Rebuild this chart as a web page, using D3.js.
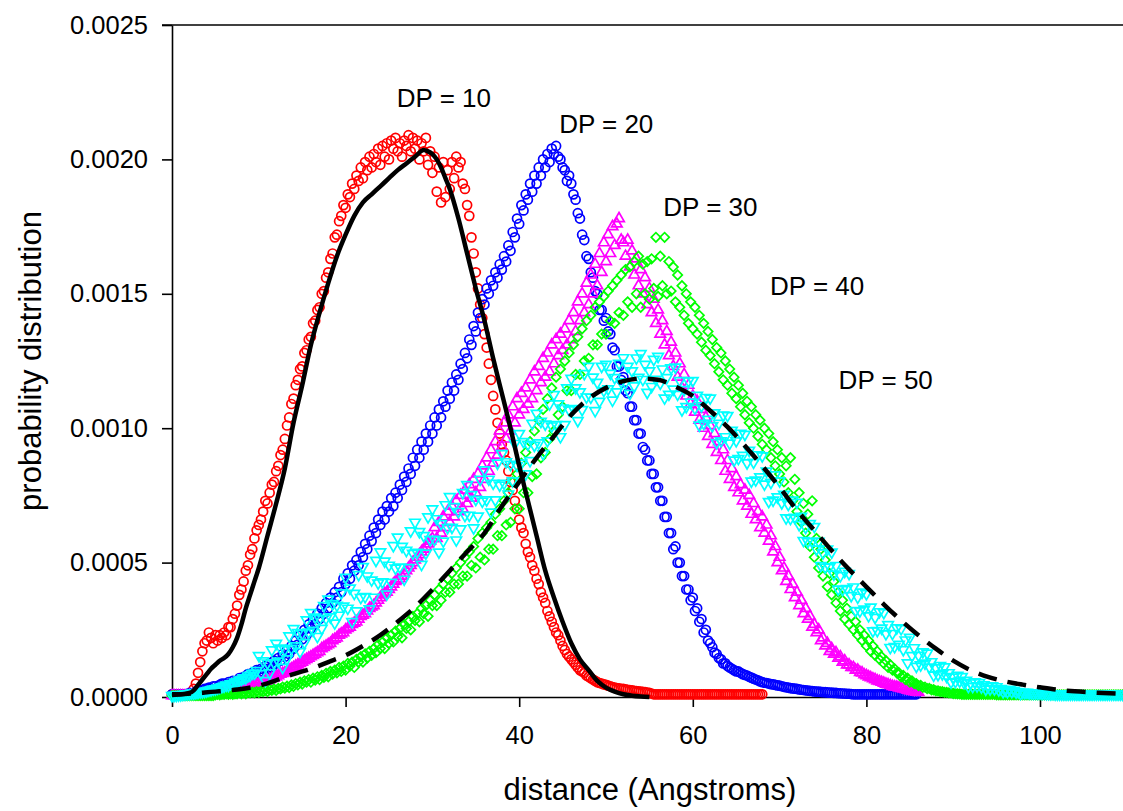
<!DOCTYPE html>
<html lang="en">
<head>
<meta charset="UTF-8">
<title>probability distribution</title>
<style>
  body { margin: 0; background: #fff; }
  svg text { font-family: "Liberation Sans", Arial, sans-serif; fill: #000; }
</style>
</head>
<body>
<svg width="1123" height="811" id="svg"></svg>
<script src="https://d3js.org/d3.v7.min.js"></script>
<script>
// sampled every 0.25 Angstrom starting at 0 (one row = 2 Angstrom), values in units of 1e-4
const step = 0.25

const dp10 = [
  0.1,0.1,0.1,0.1,0.1,0.1,0.1,0.1,
  0.1,0.1,0.3,0.5,0.9,1.3,1.7,2.0,
  2.1,2.4,2.2,2.0,2.3,2.1,2.3,2.2,
  2.4,2.3,2.6,2.6,2.9,3.1,3.4,3.8,
  4.0,4.3,4.7,4.9,5.3,5.5,5.9,6.2,
  6.4,6.6,6.9,7.3,7.2,7.6,7.9,8.0,
  8.4,8.6,9.0,9.2,9.6,10.1,10.4,10.9,
  11.1,11.6,11.8,12.2,12.3,12.8,12.9,13.3,
  13.4,13.9,14.0,14.4,14.5,15.0,15.1,15.6,
  15.8,16.3,16.5,17.1,17.2,17.7,17.9,18.3,
  18.2,18.7,18.6,19.1,18.9,19.4,19.2,19.7,
  19.3,19.9,19.6,20.1,19.7,20.2,19.9,20.4,
  19.8,20.5,20.1,20.6,20.0,20.7,20.4,20.8,
  20.3,20.6,20.1,20.7,20.5,20.9,20.3,20.8,
  20.4,20.7,20.0,20.6,20.3,20.8,19.8,20.3,
  19.5,20.1,18.8,19.7,18.4,19.9,18.6,19.6,
  18.9,19.9,19.3,20.1,19.7,19.9,19.1,18.9,
  18.3,17.9,17.1,16.5,15.8,15.2,14.6,14.1,
  13.5,13.0,12.4,11.8,11.2,10.7,10.2,9.8,
  9.4,9.1,8.8,8.4,8.0,7.7,7.3,7.0,
  6.6,6.3,6.1,5.7,5.4,5.2,4.9,4.7,
  4.4,4.2,3.9,3.7,3.5,3.2,3.0,2.8,
  2.6,2.4,2.3,2.1,1.9,1.75,1.6,1.5,
  1.4,1.3,1.2,1.1,1.0,0.95,0.9,0.8,
  0.75,0.7,0.65,0.6,0.55,0.52,0.5,0.47,
  0.45,0.42,0.4,0.37,0.35,0.33,0.32,0.3,
  0.3,0.28,0.27,0.26,0.25,0.23,0.22,0.21,
  0.2,0.19,0.18,0.16,0.15,0.13,0.1,0.1,
  0.1,0.1,0.1,0.1,0.1,0.1,0.1,0.1,
  0.1,0.1,0.1,0.1,0.1,0.1,0.1,0.1,
  0.1,0.1,0.1,0.1,0.1,0.1,0.1,0.1,
  0.1,0.1,0.1,0.1,0.1,0.1,0.1,0.1,
  0.1,0.1,0.1,0.1,0.1,0.1,0.1,0.1,
  0.1,0.1,0.1,0.1,0.1,0.1,0.1,0.1,
  0.1]

const dp20 = [
  0.1,0.1,0.1,0.1,0.1,0.1,0.1,0.1,
  0.15,0.12,0.15,0.2,0.2,0.25,0.25,0.3,
  0.3,0.35,0.3,0.4,0.4,0.35,0.45,0.5,
  0.5,0.45,0.55,0.5,0.6,0.55,0.6,0.7,
  0.65,0.75,0.7,0.85,0.8,0.9,0.8,1.0,
  0.9,1.05,0.95,1.15,1.05,1.25,1.1,1.35,
  1.25,1.45,1.35,1.6,1.5,1.75,1.6,1.9,
  1.8,2.1,1.95,2.3,2.15,2.5,2.3,2.7,
  2.55,2.9,2.7,3.1,2.9,3.3,3.1,3.5,
  3.3,3.7,3.5,3.9,3.7,4.1,3.9,4.4,
  4.2,4.6,4.4,4.9,4.7,5.1,4.9,5.4,
  5.2,5.7,5.5,6.0,5.8,6.3,6.1,6.6,
  6.4,6.9,6.6,7.1,6.9,7.4,7.1,7.6,
  7.4,7.9,7.7,8.2,8.0,8.5,8.3,8.9,
  8.6,9.2,8.9,9.5,9.2,9.8,9.5,10.1,
  9.8,10.4,10.1,10.7,10.4,11.0,10.8,11.4,
  11.1,11.7,11.4,12.0,11.8,12.4,12.2,12.8,
  12.6,13.3,13.1,13.8,13.6,14.3,14.1,14.8,
  14.6,15.2,15.0,15.5,15.3,15.8,15.6,16.1,
  15.9,16.4,16.2,16.8,16.6,17.3,17.1,17.8,
  17.6,18.3,18.1,18.7,18.5,19.1,18.8,19.4,
  19.1,19.7,19.4,20.0,19.7,20.2,19.9,20.4,
  20.2,20.5,20.1,20.0,19.7,19.6,19.2,19.4,
  19.1,18.7,18.5,18.0,17.8,17.2,17.0,16.4,
  16.3,15.8,15.6,15.1,15.0,14.4,14.4,14.0,
  14.1,13.6,13.5,13.0,12.9,12.3,12.3,11.8,
  11.9,11.4,11.3,10.8,10.8,10.3,10.3,9.8,
  9.8,9.3,9.2,8.8,8.8,8.3,8.3,7.8,
  7.8,7.3,7.3,6.7,6.7,6.1,6.1,5.5,
  5.6,5.0,5.0,4.5,4.5,4.0,4.0,3.6,
  3.7,3.2,3.3,2.8,2.9,2.4,2.5,2.1,
  2.0,1.85,1.65,1.6,1.45,1.4,1.25,1.25,
  1.15,1.1,1.05,1.0,0.95,0.95,0.9,0.85,
  0.82,0.8,0.75,0.72,0.68,0.65,0.62,0.58,
  0.55,0.53,0.52,0.5,0.48,0.47,0.45,0.43,
  0.42,0.4,0.38,0.36,0.35,0.33,0.32,0.31,
  0.3,0.28,0.27,0.26,0.25,0.24,0.23,0.22,
  0.21,0.2,0.2,0.19,0.18,0.18,0.17,0.16,
  0.16,0.15,0.15,0.14,0.14,0.13,0.13,0.12,
  0.12,0.11,0.1,0.1,0.1,0.1,0.1,0.1,
  0.1,0.1,0.1,0.1,0.1,0.1,0.1,0.1,
  0.1,0.1,0.1,0.1,0.1,0.1,0.1,0.1,
  0.1,0.1,0.1,0.1,0.1,0.1,0.1,0.1]

const dp30 = [
  0.05,0.05,0.05,0.05,0.05,0.05,0.05,0.05,
  0.05,0.05,0.05,0.05,0.05,0.05,0.1,0.1,
  0.1,0.1,0.1,0.12,0.15,0.15,0.15,0.18,
  0.2,0.2,0.2,0.22,0.25,0.28,0.3,0.3,
  0.3,0.33,0.35,0.38,0.4,0.42,0.45,0.48,
  0.5,0.52,0.55,0.58,0.6,0.65,0.7,0.72,
  0.75,0.8,0.85,0.88,0.9,0.95,1.0,1.05,
  1.1,1.15,1.2,1.25,1.3,1.35,1.4,1.45,
  1.5,1.55,1.6,1.65,1.7,1.8,1.85,1.9,
  1.95,2.0,2.1,2.15,2.2,2.3,2.35,2.4,
  2.5,2.55,2.6,2.7,2.75,2.8,2.9,3.0,
  3.05,3.1,3.2,3.3,3.35,3.4,3.5,3.6,
  3.7,3.8,3.85,3.9,4.0,4.1,4.2,4.3,
  4.35,4.4,4.5,4.6,4.7,4.8,4.9,5.0,
  5.1,5.2,5.3,5.4,5.5,5.6,5.7,5.8,
  5.9,6.3,5.9,6.5,6.1,6.7,6.3,6.9,
  6.5,7.1,6.7,7.3,6.9,7.5,7.0,7.7,
  7.2,7.9,7.4,8.1,7.6,8.3,7.8,8.6,
  8.1,8.9,8.4,9.2,8.7,9.5,9.0,9.9,
  9.3,10.2,9.6,10.5,9.9,10.8,10.2,11.1,
  10.5,11.3,10.7,11.5,10.9,11.8,11.1,12.1,
  11.4,12.3,11.7,12.6,11.9,12.8,12.1,13.1,
  12.4,13.3,12.7,13.5,12.9,13.7,13.1,14.0,
  13.3,14.3,13.6,14.7,14.0,15.0,14.3,15.4,
  14.6,15.7,15.0,16.1,15.3,16.5,15.8,16.9,
  16.2,17.2,16.5,17.5,16.8,17.6,17.8,17.0,
  16.9,16.4,17.0,16.0,16.6,15.7,16.3,15.3,
  15.9,15.0,15.6,14.6,15.2,14.3,14.8,13.9,
  14.4,13.5,14.0,13.1,13.6,12.7,13.2,12.3,
  12.8,11.9,12.4,11.5,12.0,11.2,11.6,10.9,
  11.2,10.6,11.0,10.3,10.7,10.0,10.4,9.7,
  10.1,9.4,9.8,9.1,9.5,8.8,9.2,8.4,
  8.8,8.1,8.5,7.8,8.2,7.6,7.9,7.3,
  7.7,7.1,7.5,6.8,7.2,6.6,6.9,6.3,
  6.7,6.1,6.4,5.8,6.0,5.4,5.6,5.0,
  5.2,4.7,4.8,4.3,4.5,4.0,4.2,3.7,
  3.9,3.4,3.6,3.1,3.3,2.9,3.0,2.6,
  2.7,2.4,2.5,2.1,2.2,1.9,2.0,1.7,
  1.8,1.6,1.65,1.45,1.5,1.3,1.35,1.2,
  1.2,1.1,1.1,1.0,1.0,0.92,0.9,0.83,
  0.8,0.75,0.72,0.68,0.65,0.6,0.58,0.55,
  0.52,0.48,0.46,0.43,0.4,0.38,0.37,0.34,
  0.32,0.3,0.28,0.26,0.24,0.22,0.2,0.18,
  0.17]

const dp40 = [
  0.05,0.05,0.05,0.05,0.05,0.05,0.05,0.05,
  0.05,0.05,0.05,0.05,0.05,0.05,0.05,0.05,
  0.05,0.05,0.05,0.05,0.08,0.1,0.08,0.1,
  0.1,0.12,0.1,0.12,0.1,0.12,0.12,0.15,
  0.12,0.15,0.12,0.17,0.15,0.18,0.15,0.2,
  0.17,0.22,0.2,0.25,0.2,0.27,0.25,0.3,
  0.25,0.32,0.3,0.37,0.33,0.4,0.35,0.45,
  0.4,0.5,0.45,0.55,0.48,0.6,0.55,0.65,
  0.55,0.7,0.63,0.75,0.65,0.8,0.73,0.88,
  0.75,0.95,0.85,1.0,0.9,1.1,0.95,1.15,
  1.0,1.25,1.15,1.3,1.1,1.4,1.3,1.5,
  1.3,1.6,1.45,1.7,1.55,1.8,1.65,1.95,
  1.8,2.05,1.8,2.2,2.0,2.3,2.05,2.45,
  2.25,2.55,2.2,2.7,2.55,2.8,2.5,3.0,
  2.85,3.1,2.8,3.3,3.1,3.4,3.0,3.6,
  3.4,3.8,3.4,4.0,3.6,4.2,3.9,4.4,
  3.9,4.6,4.2,4.8,4.2,5.0,4.5,5.2,
  4.5,5.4,4.9,5.6,4.8,5.9,5.2,6.1,
  5.1,6.3,5.5,6.5,5.5,6.8,6.0,7.0,
  6.0,7.3,6.4,7.6,6.5,8.0,7.0,8.3,
  7.0,8.7,7.6,9.1,7.6,9.5,8.2,9.9,
  8.3,10.3,8.9,10.7,9.1,11.1,9.6,11.5,
  9.9,11.9,10.5,12.2,10.8,12.5,11.4,12.8,
  11.4,13.1,12.0,13.4,12.0,13.7,12.5,14.0,
  12.6,14.2,13.1,14.5,13.1,14.7,13.5,14.9,
  13.5,15.1,14.0,15.3,13.9,15.5,14.3,15.7,
  14.2,15.9,14.7,16.0,14.5,16.2,15.0,16.4,
  14.5,16.1,15.0,16.2,14.8,16.3,15.2,17.1,
  14.9,16.4,15.3,17.1,15.0,16.2,15.1,16.0,
  14.7,15.7,14.5,15.3,14.2,15.0,13.9,14.7,
  13.7,14.5,13.5,14.2,13.2,13.9,12.9,13.6,
  12.7,13.3,12.4,13.0,12.1,12.8,11.8,12.5,
  11.6,12.2,11.3,11.9,11.1,11.6,10.8,11.3,
  10.5,11.0,10.2,10.8,10.0,10.5,9.7,10.3,
  9.4,10.0,9.2,9.8,8.9,9.5,8.6,9.2,
  8.3,8.9,8.0,8.6,7.6,8.9,7.3,8.1,
  6.9,7.6,6.5,7.2,6.1,6.8,5.6,7.3,
  5.2,5.9,4.8,5.5,4.5,5.1,4.1,4.6,
  3.8,4.3,3.5,3.9,3.2,3.6,2.9,3.3,
  2.7,3.0,2.5,2.8,2.3,2.5,2.1,2.3,
  1.9,2.1,1.7,1.9,1.55,1.7,1.4,1.5,
  1.25,1.35,1.1,1.2,1.0,1.05,0.9,0.9,
  0.75,0.8,0.65,0.7,0.55,0.6,0.5,0.5,
  0.42,0.43,0.36,0.37,0.31,0.32,0.27,0.27,
  0.23,0.23,0.2,0.2,0.17,0.17,0.15,0.15,
  0.13,0.13,0.12,0.12,0.1,0.1,0.1,0.1,
  0.1,0.1,0.1,0.1,0.1,0.1,0.1,0.1,
  0.1,0.1,0.1,0.1,0.08,0.08,0.08,0.08,
  0.08,0.08,0.08,0.08,0.08,0.08,0.08,0.08,
  0.08,0.08,0.08,0.08,0.08,0.08,0.08,0.08,
  0.08,0.08,0.08,0.08,0.08,0.08,0.08,0.08,
  0.08,0.08,0.08,0.08,0.08,0.08,0.08,0.08,
  0.08,0.08,0.08,0.08,0.08,0.08,0.08,0.08,
  0.08,0.08,0.08,0.08,0.08,0.08,0.08,0.08,
  0.08,0.08,0.08,0.08,0.08,0.08,0.08,0.08]

const dp50 = [
  0.05,0.06,0.06,0.07,0.08,0.09,0.1,0.11,
  0.12,0.14,0.14,0.16,0.17,0.19,0.19,0.21,
  0.22,0.25,0.26,0.29,0.3,0.33,0.35,0.38,
  0.4,0.44,0.43,0.49,0.5,0.55,0.56,0.63,
  0.65,0.71,0.71,0.78,0.8,0.88,0.88,0.98,
  1.54,0.87,1.34,0.61,1.26,0.9,1.75,1.27,
  1.99,1.33,1.82,1.1,1.76,1.42,2.27,1.81,
  2.54,1.9,2.39,1.69,2.36,2.02,2.87,2.41,
  3.14,2.48,2.97,2.25,2.91,2.55,3.4,2.92,
  3.64,2.98,3.47,2.75,3.41,3.04,3.87,3.38,
  4.45,3.3,4.05,2.8,3.85,3.2,4.55,3.7,
  4.85,3.73,4.5,3.28,4.35,3.71,5.08,4.24,
  5.4,4.28,5.05,3.83,4.9,4.26,5.63,4.79,
  5.95,4.83,5.6,4.38,5.45,4.81,6.18,5.34,
  6.5,5.38,6.15,4.93,6.0,5.35,6.7,5.85,
  7.0,5.86,6.63,5.39,6.45,5.8,7.15,6.3,
  7.45,6.31,7.08,5.84,6.9,6.25,7.6,6.75,
  7.9,6.76,7.53,6.29,7.35,6.73,8.1,7.28,
  8.45,7.33,8.1,6.88,7.95,7.33,8.7,7.88,
  9.05,7.95,8.75,7.55,8.65,8.04,9.43,8.61,
  9.8,8.7,9.5,8.3,9.4,8.79,10.18,9.36,
  10.55,9.45,10.25,9.05,10.15,9.53,10.9,10.08,
  11.25,10.13,10.9,9.68,10.75,10.13,11.5,10.68,
  11.85,10.73,11.5,10.28,11.35,10.69,12.03,11.16,
  12.3,11.15,11.9,10.65,11.7,11.0,12.3,11.4,
  12.37,11.46,12.04,11.04,11.88,11.35,12.41,11.72,
  12.62,11.7,12.3,11.29,12.13,11.57,12.61,11.89,
  12.77,11.81,12.37,11.33,12.13,11.55,12.56,11.82,
  12.67,11.67,12.2,11.12,11.88,11.26,12.24,11.45,
  12.27,11.26,11.77,10.68,11.43,10.8,11.76,10.97,
  11.77,10.74,11.22,10.11,10.83,10.18,11.14,10.33,
  11.12,10.09,10.57,9.46,10.18,9.53,10.49,9.68,
  10.47,9.44,9.92,8.81,9.53,8.87,9.81,8.99,
  9.77,8.71,9.17,8.03,8.73,8.07,9.01,8.19,
  8.97,7.92,8.4,7.27,7.98,7.32,8.26,7.44,
  8.04,7.22,7.54,6.66,7.16,6.64,7.32,6.68,
  7.24,6.41,6.72,5.82,6.31,5.78,6.45,5.79,
  6.34,5.5,5.79,4.89,5.36,4.83,5.5,4.84,
  5.39,4.57,4.89,4.01,4.51,3.99,4.67,4.03,
  4.59,3.77,4.09,3.21,3.71,3.2,3.9,3.27,
  3.84,3.02,3.34,2.46,2.96,2.47,3.17,2.56,
  3.14,2.35,2.69,1.84,2.36,1.87,2.57,1.96,
  2.54,1.76,2.12,1.27,2.22,1.54,1.83,1.14,
  1.55,1.19,1.68,1.26,1.63,1.11,1.31,0.81,
  1.08,0.83,1.17,0.86,1.12,0.76,0.9,0.55,
  0.74,0.57,0.8,0.59,0.76,0.53,0.62,0.39,
  0.52,0.39,0.56,0.41,0.53,0.37,0.45,0.29,
  0.38,0.3,0.41,0.3,0.38,0.26,0.31,0.2,
  0.25,0.2,0.28,0.2,0.25,0.18,0.2,0.13,
  0.17,0.16,0.17,0.15,0.15,0.14,0.15,0.14,
  0.15,0.13,0.14,0.12,0.12,0.11,0.12,0.1,
  0.1,0.1,0.1,0.1,0.1,0.1,0.1,0.1,
  0.1,0.1,0.1,0.1,0.1,0.1,0.1,0.1,
  0.1,0.1,0.1,0.1,0.1,0.1,0.1,0.1,
  0.1,0.1,0.1,0.1,0.1,0.1,0.1,0.1]

// fitted curves: [distance, value x1e-4]
const fit10 = [[0,0.1],[1,0.1],[2,0.15],[2.5,0.25],[3,0.45],[3.5,0.65],[4,0.85],[4.5,1.05],[5,1.2],[5.5,1.35],
  [6,1.45],[6.5,1.6],[7,1.85],[7.5,2.2],[8,2.7],[8.5,3.3],[9,3.8],[9.5,4.3],[10,4.8],[11,6.0],
  [12,7.2],[13,8.5],[14,10.2],[15,11.6],[16,13.1],[17,14.3],[18,15.4],[19,16.4],[20,17.2],[21,17.9],
  [22,18.4],[23,18.7],[24,19.0],[25,19.3],[26,19.6],[27,19.85],[28,20.1],[29,20.35],[29.5,20.3],[30,20.2],
  [30.5,20.0],[31,19.7],[31.5,19.3],[32,18.9],[33,17.8],[34,16.5],[35,15.2],[36,14.0],[37,12.6],[38,11.3],
  [39,10.0],[40,8.6],[41,7.3],[42,6.0],[43,4.7],[44,3.7],[45,2.8],[46,2.0],[47,1.4],[48,1.0],
  [49,0.6],[50,0.35],[51,0.2],[52,0.1],[53,0.05],[54,0.02],[55,0.0]]

const fit50 = [[0,0.07],[3,0.15],[5,0.2],[7.5,0.28],[10,0.42],[12,0.62],[14,0.85],[16,1.05],[18,1.3],[20,1.55],
  [22,1.9],[24,2.3],[26,2.8],[28,3.35],[30,4.0],[32,4.7],[34,5.4],[36,6.1],[38,7.1],[40,8.0],
  [42,8.9],[44,9.7],[46,10.5],[48,11.1],[50,11.5],[52,11.75],[54,11.85],[56,11.8],[58,11.55],[60,11.2],
  [62,10.65],[64,10.05],[66,9.35],[68,8.6],[70,7.8],[72,6.95],[74,6.2],[76,5.45],[78,4.75],[80,4.1],
  [82,3.45],[84,2.85],[86,2.3],[88,1.8],[90,1.35],[92,1.0],[94,0.75],[96,0.58],[98,0.46],[100,0.36],
  [102,0.27],[104,0.21],[106,0.17],[108,0.14],[110,0.12]]

const yTicks = [0, 0.0005, 0.0010, 0.0015, 0.0020, 0.0025]
const xTicks = [0, 20, 40, 60, 80, 100]

const labels = [
  { text: "DP = 10", d: 25.9, p: 0.002195 },
  { text: "DP = 20", d: 44.6, p: 0.002098 },
  { text: "DP = 30", d: 56.6, p: 0.00179 },
  { text: "DP = 40", d: 68.9, p: 0.001496 },
  { text: "DP = 50", d: 76.8, p: 0.001146 }
]

const svg = d3.select("svg#svg")
const padLeft = 172, padTop = 25, padBottom = 697

const x = d3.scaleLinear().domain([0, 110]).range([padLeft, padLeft + 110 * 8.68])
const y = d3.scaleLinear().domain([0, 0.0025]).range([padBottom, padTop])

const toPts = arr => arr.map((v, i) => ({ d: i * step, p: v * 1e-4 }))

// axes
const yAxis = d3.axisLeft(y).tickValues(yTicks).tickFormat(d3.format(".4f"))
  .tickSize(10).tickSizeOuter(0).tickPadding(14)
svg.append("g").attr("transform", `translate(${padLeft},0)`).call(yAxis)

const xAxis = d3.axisBottom(x).tickValues(xTicks).tickFormat(d3.format("d"))
  .tickSize(10).tickSizeOuter(0).tickPadding(19)
svg.append("g").attr("transform", `translate(0,${padBottom})`).call(xAxis)

svg.selectAll(".tick text").attr("font-size", 25.5).attr("font-family", "Liberation Sans, Arial, sans-serif")
svg.selectAll(".domain, .tick line").attr("stroke", "#000").attr("stroke-width", 1.6)

svg.append("line").attr("x1", padLeft - 10).attr("x2", 1123).attr("y1", y(0.0025)).attr("y2", y(0.0025))
  .attr("stroke", "#000").attr("stroke-width", 1.6)

// scatter series, drawn in this order
const series = [
  { data: dp10, color: "#ff0000", shape: "circle" },
  { data: dp20, color: "#0000ff", shape: "circle" },
  { data: dp30, color: "#ff00ff", shape: "up" },
  { data: dp40, color: "#00ff00", shape: "diamond" },
  { data: dp50, color: "#00ffff", shape: "down" }
]

const tri = d3.symbol().type(d3.symbolTriangle).size(48)()
const dia = d3.symbol().type(d3.symbolSquare).size(44)()

series.forEach(s => {
  const g = svg.append("g").attr("fill", "none").attr("stroke", s.color).attr("stroke-width", 1.7)
  const pts = toPts(s.data)
  if (s.shape === "circle") {
    g.selectAll("circle").data(pts).enter().append("circle")
      .attr("cx", d => x(d.d)).attr("cy", d => y(d.p)).attr("r", 4.5)
  } else {
    const path = s.shape === "diamond" ? dia : tri
    const rot = s.shape === "down" ? 180 : (s.shape === "diamond" ? 45 : 0)
    g.selectAll("path").data(pts).enter().append("path")
      .attr("d", path)
      .attr("transform", d => `translate(${x(d.d)},${y(d.p)}) rotate(${rot})`)
  }
})

// fitted curves
const line = d3.line().x(d => x(d[0])).y(d => y(d[1] * 1e-4)).curve(d3.curveMonotoneX)
svg.append("path").datum(fit10).attr("d", line)
  .attr("fill", "none").attr("stroke", "#000").attr("stroke-width", 4.5)
svg.append("path").datum(fit50).attr("d", line)
  .attr("fill", "none").attr("stroke", "#000").attr("stroke-width", 4.5)
  .attr("stroke-dasharray", "19,11")

// labels
svg.selectAll("text.lbl").data(labels).enter().append("text").attr("class", "lbl")
  .attr("x", d => x(d.d)).attr("y", d => y(d.p))
  .attr("font-size", 26).text(d => d.text)

svg.append("text").attr("x", 650).attr("y", 800).attr("text-anchor", "middle")
  .attr("font-size", 31).text("distance (Angstroms)")
svg.append("text").attr("transform", `translate(41,${(padTop + padBottom) / 2}) rotate(-90)`)
  .attr("text-anchor", "middle").attr("font-size", 31).text("probability distribution")
</script>
</body>
</html>
